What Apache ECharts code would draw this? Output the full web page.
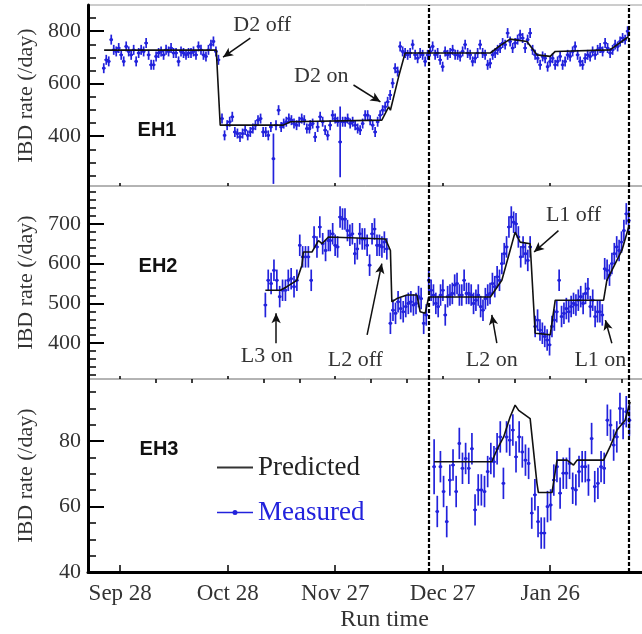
<!DOCTYPE html>
<html>
<head>
<meta charset="utf-8">
<script src="https://cdn.jsdelivr.net/npm/echarts@6/dist/echarts.min.js"></script>
<style>
  html, body { margin: 0; padding: 0; background: #fff; }
  #chart { width: 642px; height: 634px; }
</style>
</head>
<body>
<div id="chart"></div>
<script>
// Run time axis: days counted from Sep 28
const xLabelDays = [0, 30, 60, 90, 120];
const xLabelTexts = ['Sep 28', 'Oct 28', 'Nov 27', 'Dec 27', 'Jan 26'];
const xMajorTicks = [0, 30, 60, 90, 120, 150];
const xMinorTicks = [10, 20, 40, 50, 70, 80, 100, 110, 130, 140];
const dividerDays = [86, 142];

// Rate axes
const eh1Labels = [400, 600, 800];
const eh1Minor = [250, 300, 350, 450, 500, 550, 650, 700, 750, 850];
const eh2Labels = [400, 500, 600, 700];
const eh2Minor = [320, 340, 360, 380, 420, 440, 460, 480, 520, 540, 560, 580, 620, 640, 660, 680, 720, 740, 760, 780];
const eh3Labels = [40, 60, 80];
const eh3Minor = [45, 50, 55, 65, 70, 75, 85, 90, 95];
const hallNames = ['EH1', 'EH2', 'EH3'];

// EH1 predicted rate
const eh1PredDays = [-4.5, 26.8, 27.9, 45.5, 47.5, 73.0, 74.9, 75.4, 77.7, 79.5, 103.3, 106.0, 108.8, 113.5, 116.3, 120.0, 121.4, 136.7, 141.9];
const eh1PredRate = [728, 728, 442, 442, 455, 461, 512, 499, 627, 717, 717, 745, 770, 761, 710, 704, 723, 729, 780];
// EH1 measured rate (runs of consecutive points, first/last day of each run)
const eh1SpanA = [-4.6, 27.4];
const eh1RateA = [659, 691, 685, 768, 729, 723, 736, 710, 685, 742, 723, 710, 729, 685, 717, 729, 723, 755, 710, 672,
  672, 704, 717, 723, 710, 729, 723, 736, 717, 717, 685, 723, 717, 710, 717, 717, 723, 710, 742, 729,
  710, 704, 729, 749, 761, 723, 691];
const eh1SpanB = [28.4, 52.8];
const eh1RateB = [467, 403, 442, 455, 474, 416, 410, 397, 410, 423, 403, 416, 429, 442, 461, 467, 416, 416, 403, 435,
  [314, 96], 442, 499, 435, 448, 455, 467, 461, 448, 442, 455, 467, 461, 429, 429];
const eh1SpanC = [53.0, 141.6];
const eh1RateC = [442, 448, 397, 435, 474, 455, 423, 403, 442, 480, 467, 455, [378, 135], 455, 455, 467, 448, 455, 442, 429,
  423, 448, 480, 480, 461, 442, 416, 455, 480, 499, 512, 531, 557, 602, 659, 646, 742, 723, 717, 710,
  717, 749, 710, 697, 717, 710, 685, 710, 723, 742, 710, 717, 691, 665, 723, 710, 717, 729, 710, 710,
  704, 723, 749, 717, 710, 685, 697, 717, 749, 717, 710, 672, 678, 710, 717, 729, 736, 755, 749, 793,
  761, 736, 755, 768, 787, 774, 736, 768, 793, 729, 710, 697, 672, 704, 697, 665, 685, 697, 672, 685,
  704, 672, 685, 710, 704, 723, 742, 710, 685, 672, 697, 710, 704, 723, 710, 729, 736, 723, 755, 736,
  717, 729, 749, 742, 761, 774, 768, 800];
const eh1Err = 19;

// EH2 predicted rate
const eh2PredDays = [40.5, 44.7, 46.5, 49.3, 50.7, 51.1, 53.5, 55.3, 56.3, 58.1, 74.0, 75.4, 75.8, 77.2, 80.0, 82.8, 83.7, 85.1, 86.1, 103.3,
  106.5, 108.8, 110.2, 111.6, 114.4, 115.8, 120.0, 121.4, 134.9, 135.8, 140.0, 141.9];
const eh2PredRate = [533, 533, 542, 558, 596, 629, 629, 658, 650, 667, 662, 633, 504, 512, 521, 521, 479, 475, 516, 516,
  558, 633, 679, 654, 650, 425, 421, 508, 508, 558, 633, 692];
// EH2 measured rate
const eh2SpanA = [40.5, 58.1];
const eh2RateA = [[496, 31], 558, 550, 583, 558, 517, 533, 533, 558, 562, 542, 558, 646, 617, 617, 617, 558, 667, 642, 692, 650, 633, 658];
const eh2SpanB = [58.6, 74.4];
const eh2RateB = [658, 675, 646, 642, 717, 712, 712, 683, 671, 675, 625, 637, 675, 662, 662, 646, 596, 675, 687, 646, 646, 642, 654, 637];
const eh2SpanC = [75.4, 85.4];
const eh2RateC = [450, 483, 475, 504, 487, 479, 492, 500, 504, 496, 500, 517, 512, 450, 471];
const eh2SpanD = [86.1, 114.4];
const eh2RateD = [558, 533, 521, 500, 492, 521, 533, 471, 517, 521, 525, 546, 550, 521, 521, 558, 525, 525, 521, 500,
  508, 521, 492, 483, 512, 521, 525, 550, 542, 567, 558, 600, 625, 642, 692, 717, 704, 700, 667, 617,
  642, 625, 608, 642];
const eh2SpanE = [115.8, 141.9];
const eh2RateE = [442, 458, 433, 425, 417, 408, 396, 442, 458, 479, 558, 467, 475, 487, 479, 492, 500, 496, 508, 517,
  500, 525, 537, 492, 508, 467, 479, 479, 471, 587, 583, 571, 600, 625, 642, 633, 654, 683, 725, 708];
const eh2Err = 27;

// EH3 predicted rate
const eh3PredDays = [87.6, 103.7, 105.1, 107.0, 108.8, 110.2, 111.2, 114.4, 116.3, 116.7, 120.5, 121.9, 124.7, 126.5, 127.5, 134.9, 136.7, 138.6, 140.9, 142.3];
const eh3PredRate = [73.7, 73.7, 77.3, 81.3, 87.4, 91.0, 89.4, 86.9, 67.1, 64.3, 64.3, 74.2, 74.2, 72.7, 74.2, 74.2, 78.3, 83.3, 86.4, 92.0];
// EH3 measured rate
const eh3Span = [87.6, 142.1];
const eh3Rate = [[72.2, 8.4], 58.5, 72.2, 64.6, 55.4, 68.1, 72.7, 64.6, 79.3, 71.7,
  74.7, 71.7, 77.7, 59.0, 65.1, 65.1, 64.6, 70.7, 74.7, 73.7,
  77.7, 81.3, 67.1, 81.3, 80.3, 83.4, 75.2, 81.3, 76.7, 74.2,
  73.2, 58.0, 63.6, 55.4, 51.9, 51.9, 60.0, 60.5, 68.1, 72.2,
  64.1, 70.2, 70.2, 73.2, 65.6, 65.1, 70.7, 72.2, 72.2, 68.1,
  80.8, 66.1, 67.1, 72.2, 71.7, 86.4, 84.9, 78.8, 81.3, 90.0,
  85.4, 89.0, 86.4];
const eh3Err = 4.8;

// Reactor on/off notes: text anchor, arrow tail, arrow head (day, rate)
const eh1NoteText = ['D2 off', 'D2 on'];
const eh1NoteAt = [[39.6, 823], [56.1, 628]];
const eh1ArrowFrom = [[36.3, 774], [65.1, 595]];
const eh1ArrowTo = [[28.7, 701], [72.6, 531]];
const eh2NoteText = ['L3 on', 'L2 off', 'L2 on', 'L1 off', 'L1 on'];
const eh2NoteAt = [[40.9, 366], [65.6, 358], [103.7, 358], [126.5, 721], [134.0, 358]];
const eh2ArrowFrom = [[43.5, 400], [68.9, 421], [105.1, 400], [122.3, 683], [137.2, 400]];
const eh2ArrowTo = [[43.5, 475], [73.0, 600], [103.7, 471], [115.5, 629], [135.4, 458]];

const BLUE = '#2222dc';
const SERIF = 'Liberation Serif';
const X_MIN = -9, X_MAX = 156.5;

function run(span, values, defErr) {
  const n = values.length;
  const step = n > 1 ? (span[1] - span[0]) / (n - 1) : 0;
  return values.map((v, i) => {
    const pair = Array.isArray(v) ? v : [v, defErr];
    return [span[0] + i * step, pair[0], pair[1]];
  });
}
const zip = (a, b) => a.map((d, i) => [d, b[i]]);

const eh1Points = [].concat(run(eh1SpanA, eh1RateA, eh1Err), run(eh1SpanB, eh1RateB, eh1Err), run(eh1SpanC, eh1RateC, eh1Err));
const eh2Points = [].concat(run(eh2SpanA, eh2RateA, eh2Err), run(eh2SpanB, eh2RateB, eh2Err), run(eh2SpanC, eh2RateC, eh2Err),
  run(eh2SpanD, eh2RateD, eh2Err), run(eh2SpanE, eh2RateE, eh2Err));
const eh3Points = run(eh3Span, eh3Rate, eh3Err);

function renderErrorBar(params, api) {
  const x = api.value(0), y = api.value(1), e = api.value(2);
  const c = api.coord([x, y]);
  const hi = api.coord([x, y + e]);
  const lo = api.coord([x, y - e]);
  const style = { stroke: BLUE, lineWidth: 1.7 };
  return {
    type: 'group',
    children: [
      { type: 'line', shape: { x1: c[0], y1: hi[1], x2: c[0], y2: lo[1] }, style: style },
      { type: 'line', shape: { x1: c[0] - 1.8, y1: c[1], x2: c[0] + 1.8, y2: c[1] }, style: style },
      { type: 'circle', shape: { cx: c[0], cy: c[1], r: 1.6 }, style: { fill: BLUE } }
    ]
  };
}

const panels = [
  { top: 5, height: 181, min: 210, max: 900, labels: eh1Labels, minor: eh1Minor },
  { top: 186, height: 193, min: 310, max: 795, labels: eh2Labels, minor: eh2Minor },
  { top: 379, height: 193, min: 40, max: 99, labels: eh3Labels, minor: eh3Minor }
];

const grids = panels.map(p => ({
  left: 88, right: -39, top: p.top, height: p.height,
  show: true, borderColor: '#9a9a9a', borderWidth: 1, backgroundColor: 'transparent',
  containLabel: false, outerBoundsMode: 'none'
}));

const yAxes = [];
panels.forEach((p, g) => {
  yAxes.push({
    type: 'value', gridIndex: g, min: p.min, max: p.max, position: 'left',
    axisLine: { show: true, onZero: false, lineStyle: { color: '#000', width: 3 } },
    axisTick: { show: true, inside: true, length: 16, customValues: p.labels, lineStyle: { color: '#000', width: 2 } },
    axisLabel: { show: true, customValues: p.labels, margin: 7, fontFamily: SERIF, fontSize: 22, color: '#333' },
    splitLine: { show: false },
    name: 'IBD rate (/day)', nameLocation: 'middle', nameRotate: 90, nameGap: 51, nameMoveOverlap: false,
    nameTextStyle: { fontFamily: SERIF, fontSize: 22, color: '#333' }
  });
  yAxes.push({
    type: 'value', gridIndex: g, min: p.min, max: p.max, position: 'left',
    axisLine: { show: false, onZero: false },
    axisTick: { show: true, inside: true, length: 8, customValues: p.minor, lineStyle: { color: '#000', width: 1.5 } },
    axisLabel: { show: false }, splitLine: { show: false }
  });
});

const xAxes = [0, 1].map(g => ({
  type: 'value', gridIndex: g, min: X_MIN, max: X_MAX,
  axisLine: { show: false, onZero: false },
  axisTick: { show: true, inside: true, length: 3, customValues: xMajorTicks, lineStyle: { color: '#000', width: 1.5 } },
  axisLabel: { show: false }, splitLine: { show: false }
}));
xAxes.push({
  type: 'value', gridIndex: 2, min: X_MIN, max: X_MAX,
  axisLine: { show: true, onZero: false, lineStyle: { color: '#000', width: 3 } },
  axisTick: { show: true, inside: true, length: 7, customValues: xMajorTicks, lineStyle: { color: '#000', width: 1.5 } },
  axisLabel: {
    show: true, customValues: xLabelDays, margin: 10, fontFamily: SERIF, fontSize: 23, color: '#333',
    formatter: v => xLabelTexts[xLabelDays.indexOf(v)] || ''
  },
  splitLine: { show: false },
  name: 'Run time', nameLocation: 'middle', nameGap: 36,
  nameTextStyle: { fontFamily: SERIF, fontSize: 24, color: '#333' }
});
xAxes.push({
  type: 'value', gridIndex: 2, min: X_MIN, max: X_MAX,
  axisLine: { show: false, onZero: false },
  axisTick: { show: true, inside: true, length: 4, customValues: xMinorTicks, lineStyle: { color: '#000', width: 1.5 } },
  axisLabel: { show: false }, splitLine: { show: false }
});

const dividerLines = dividerDays.map(d => ({
  xAxis: d, symbol: 'none',
  lineStyle: { type: [4, 2], color: '#000', width: 2.2 }
}));

function arrowLines(from, to) {
  return from.map((f, i) => [
    { coord: f, symbol: 'none', lineStyle: { type: 'solid', color: '#111', width: 1.5 } },
    { coord: to[i], symbol: 'arrow', symbolSize: [7, 10], lineStyle: { type: 'solid', color: '#111', width: 1.5 } }
  ]);
}
function notePoints(texts, at) {
  return texts.map((t, i) => ({ name: t, coord: at[i] }));
}

const measured = [eh1Points, eh2Points, eh3Points];
const predicted = [zip(eh1PredDays, eh1PredRate), zip(eh2PredDays, eh2PredRate), zip(eh3PredDays, eh3PredRate)];
const arrows = [arrowLines(eh1ArrowFrom, eh1ArrowTo), arrowLines(eh2ArrowFrom, eh2ArrowTo), []];
const notes = [notePoints(eh1NoteText, eh1NoteAt), notePoints(eh2NoteText, eh2NoteAt), []];

const series = [];
[0, 1, 2].forEach(g => {
  series.push({
    type: 'custom', name: 'Measured', xAxisIndex: g, yAxisIndex: 2 * g,
    data: measured[g], encode: { x: 0, y: 1 }, renderItem: renderErrorBar,
    clip: true, z: 2, silent: true
  });
  series.push({
    type: 'line', name: 'Predicted', xAxisIndex: g, yAxisIndex: 2 * g,
    data: predicted[g], showSymbol: false, symbol: 'none',
    lineStyle: { color: '#111', width: 1.6 }, itemStyle: { color: '#111' },
    z: 4, silent: true,
    markLine: {
      silent: true, symbol: 'none', animation: false,
      label: { show: false },
      data: dividerLines.concat(arrows[g])
    },
    markPoint: {
      silent: true, symbol: 'rect', symbolSize: 1, animation: false,
      itemStyle: { color: 'rgba(0,0,0,0)' },
      label: { show: true, position: 'inside', formatter: p => p.name, fontFamily: SERIF, fontSize: 22, color: '#333' },
      data: notes[g]
    }
  });
});

const hallLabelAt = [[157, 130], [158, 266], [159, 449]];
const graphic = hallNames.map((t, i) => ({
  type: 'text', x: hallLabelAt[i][0], y: hallLabelAt[i][1], silent: true,
  style: { text: t, fill: '#111', font: 'bold 20px "Liberation Sans"', textAlign: 'center', textVerticalAlign: 'middle' }
}));

const option = {
  animation: false,
  backgroundColor: '#fff',
  textStyle: { fontFamily: SERIF },
  grid: grids,
  xAxis: xAxes,
  yAxis: yAxes,
  legend: {
    left: 212, top: 449, orient: 'vertical', itemWidth: 36, itemHeight: 8, itemGap: 18,
    selectedMode: false,
    textStyle: { fontFamily: SERIF, fontSize: 27 },
    data: [
      { name: 'Predicted', icon: 'path://M0,0h36v2h-36z', itemStyle: { color: '#333' }, textStyle: { color: '#222' } },
      { name: 'Measured', icon: 'path://M0,2.3h36v1.4h-36z M15.5,3a2.5,2.5 0 1 1 5,0a2.5,2.5 0 1 1 -5,0z', itemStyle: { color: BLUE }, textStyle: { color: BLUE } }
    ]
  },
  graphic: graphic,
  series: series
};

const chart = echarts.init(document.getElementById('chart'), null, { renderer: 'canvas' });
chart.setOption(option);
</script>
</body>
</html>
